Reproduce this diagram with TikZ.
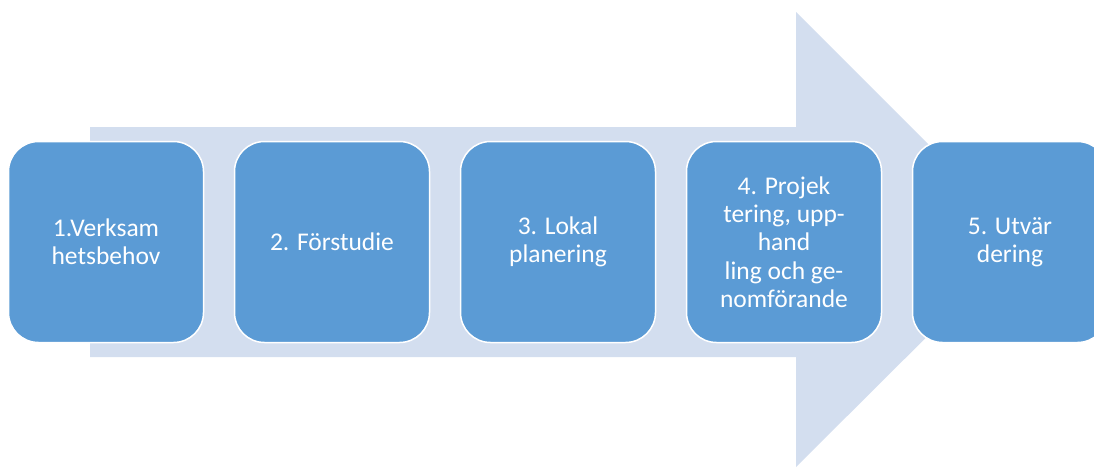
\documentclass[tikz,border=0pt]{standalone}
\usepackage{fontspec}
\setmainfont{Carlito}
\definecolor{boxblue}{HTML}{5B9BD5}
\definecolor{arrowbg}{HTML}{D3DEEF}
\begin{document}
\begin{tikzpicture}[x=1pt,y=-1pt,
  stepbox/.style={draw=white, line width=1.5pt, fill=boxblue, rounded corners=30pt,
    minimum width=195pt, minimum height=201pt, text=white, align=center,
    font=\fontsize{25.5}{28.3}\selectfont, inner sep=0pt}]
\useasboundingbox (0,0) rectangle (1094,467);
\clip (0,0) rectangle (1094,467);
\fill[arrowbg] (90,127) -- (796,127) -- (796,12) -- (1024,240) -- (796,467) -- (796,357) -- (90,357) -- cycle;
\node[stepbox] (s1) at (106,242) {1.Verksam\\hetsbehov};
\node[stepbox] (s2) at (332,242) {2. Förstudie};
\node[stepbox] (s3) at (558,242) {3. Lokal\\planering};
\node[stepbox] (s4) at (784,242) {4. Projek\\tering, upp-\\hand\\ling och ge-\\nomförande};
\node[stepbox] (s5) at (1010,242) {5. Utvär\\dering};
\end{tikzpicture}
\end{document}
